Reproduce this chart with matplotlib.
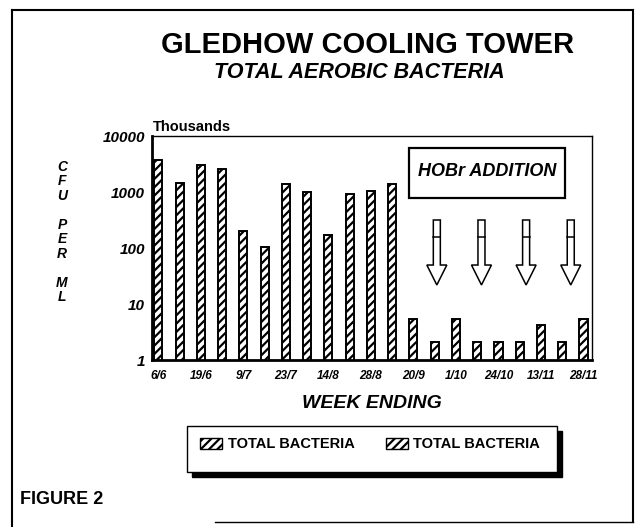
import numpy as np
import matplotlib
matplotlib.use("Agg")
import matplotlib.pyplot as plt
from matplotlib.patches import Rectangle, Polygon

plt.rcParams["font.family"] = ["Liberation Sans", "DejaVu Sans"]
plt.rcParams["hatch.linewidth"] = 1.6

# weekly counts, thousands of CFU per ml
week_labels = ["6/6", "19/6", "9/7", "23/7", "14/8", "28/8",
               "20/9", "1/10", "24/10", "13/11", "28/11"]
cfu_thousands = [3800, 1430, 3000, 2600, 205, 105, 1370, 1010, 170, 920,
                 1050, 1370, 5.3, 2.1, 5.3, 2.1, 2.1, 2.1, 4.3, 2.1, 5.5]
y_ticks = [1, 10, 100, 1000, 10000]
dose_weeks = [13.1, 15.2, 17.3, 19.4]   # HOBr additions (bar index units)

W, H = 640, 527
fig = plt.figure(figsize=(W / 100, H / 100), dpi=100)

def fx(px):
    return px / W

def fy(py):
    return 1 - py / H

ax = fig.add_axes([fx(152), fy(360), fx(592) - fx(152), fy(136) - fy(360)])
x = np.arange(len(cfu_thousands))
ax.bar(x, cfu_thousands, width=0.38, bottom=0.0, color="white",
       edgecolor="black", linewidth=1.4, hatch="////")
ax.set_yscale("log")
ax.set_ylim(1, 10000)
ax.set_xlim(-0.3, 20.4)
ax.set_yticks(y_ticks)
ax.set_yticklabels([str(v) for v in y_ticks], fontsize=11, fontweight="bold",
                   style="italic")
ax.minorticks_off()
ax.set_xticks(x[::2])
ax.set_xticklabels(week_labels, fontsize=8.5, fontweight="bold", style="italic")
ax.tick_params(axis="x", length=0, pad=7)
ax.tick_params(axis="y", length=0, pad=5)
for side in ["left", "bottom"]:
    ax.spines[side].set_linewidth(2)
for side in ["top", "right"]:
    ax.spines[side].set_linewidth(1)

# HOBr addition box
ax.add_patch(Rectangle((0.584, 0.723), 0.355, 0.223, transform=ax.transAxes,
                       fill=False, edgecolor="black", linewidth=1.6))
ax.text(0.7615, 0.84, "HOBr ADDITION", transform=ax.transAxes, ha="center",
        va="center", fontsize=13, fontweight="bold", style="italic")

# hollow down arrows
tr = ax.get_xaxis_transform()
sw, hw = 0.165, 0.47
top, neck, tip, div = 0.625, 0.424, 0.335, 0.549
for d in dose_weeks:
    verts = [(d - sw, top), (d + sw, top), (d + sw, neck), (d + hw, neck),
             (d, tip), (d - hw, neck), (d - sw, neck)]
    ax.add_patch(Polygon(verts, closed=True, fill=False, edgecolor="black",
                         linewidth=1.1, transform=tr))
    ax.plot([d - sw, d + sw], [div, div], color="black", lw=1.1, transform=tr)

# texts
fig.text(fx(368), fy(45), "GLEDHOW COOLING TOWER", ha="center", va="center",
         fontsize=21, fontweight="bold")
fig.text(fx(359), fy(73), "TOTAL AEROBIC BACTERIA", ha="center", va="center",
         fontsize=15.5, fontweight="bold", style="italic")
fig.text(fx(153), fy(127), "Thousands", ha="left", va="center", fontsize=10.5,
         fontweight="bold")
fig.text(fx(62), fy(232), "C\nF\nU\n\nP\nE\nR\n\nM\nL", ha="center",
         va="center", fontsize=10, fontweight="bold", style="italic",
         linespacing=1.05)
fig.text(fx(372), fy(404), "WEEK ENDING", ha="center", va="center",
         fontsize=14, fontweight="bold", style="italic")
fig.text(fx(20), fy(500), "FIGURE 2", ha="left", va="center", fontsize=13,
         fontweight="bold")

# legend panel with shadow
fig.patches.append(Rectangle((fx(192), fy(477)), fx(562) - fx(192),
                             fy(431) - fy(477), transform=fig.transFigure,
                             facecolor="black", edgecolor="black"))
fig.patches.append(Rectangle((fx(187), fy(472)), fx(557) - fx(187),
                             fy(426) - fy(472), transform=fig.transFigure,
                             facecolor="white", edgecolor="black", lw=1))
for px0, tx in [(200, 228), (386, 413)]:
    fig.patches.append(Rectangle((fx(px0), fy(449)), fx(22), fy(438) - fy(449),
                                 transform=fig.transFigure, facecolor="white",
                                 edgecolor="black", lw=1, hatch="////"))
    fig.text(fx(tx), fy(444), "TOTAL BACTERIA", ha="left", va="center",
             fontsize=10.5, fontweight="bold")

# outer frame
fig.add_artist(plt.Line2D([fx(12), fx(12)], [fy(10), fy(527)], color="black",
                          lw=1.5, transform=fig.transFigure))
fig.add_artist(plt.Line2D([fx(12), fx(633)], [fy(10), fy(10)], color="black",
                          lw=1.5, transform=fig.transFigure))
fig.add_artist(plt.Line2D([fx(633), fx(633)], [fy(10), fy(522)], color="black",
                          lw=1.5, transform=fig.transFigure))
fig.add_artist(plt.Line2D([fx(215), fx(633)], [fy(522), fy(522)], color="black",
                          lw=1, transform=fig.transFigure))

fig.savefig("out.png", dpi=100)
